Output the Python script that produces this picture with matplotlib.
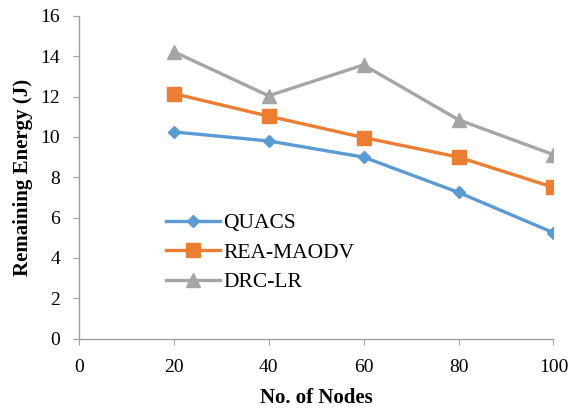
import matplotlib
matplotlib.use("Agg")
import matplotlib.pyplot as plt

nodes = [20, 40, 60, 80, 100]
quacs = [10.25, 9.8, 9.0, 7.25, 5.25]
rea_maodv = [12.15, 11.03, 9.97, 9.0, 7.5]
drc_lr = [14.23, 12.04, 13.57, 10.85, 9.12]
series_names = ["QUACS", "REA-MAODV", "DRC-LR"]
x_ticks = [0, 20, 40, 60, 80, 100]
y_ticks = [0, 2, 4, 6, 8, 10, 12, 14, 16]

plt.rcParams['font.family'] = ['Liberation Serif', 'DejaVu Serif']

fig = plt.figure(figsize=(5.7, 4.08), dpi=100)
ax = fig.add_axes([0.138, 0.170, 0.833, 0.791])

ax.plot(nodes, quacs, color='#5B9BD5', lw=2.4, marker='D', ms=6.6, label=series_names[0])
ax.plot(nodes, rea_maodv, color='#ED7D31', lw=2.4, marker='s', ms=10, label=series_names[1])
ax.plot(nodes, drc_lr, color='#A5A5A5', lw=2.4, marker='^', ms=10, label=series_names[2])

ax.set_xlim(0, 100)
ax.set_ylim(0, 16)
ax.set_xticks(x_ticks)
ax.set_yticks(y_ticks)
for s in ['top', 'right']:
    ax.spines[s].set_visible(False)
for s in ['left', 'bottom']:
    ax.spines[s].set_color('#A0A0A0')
    ax.spines[s].set_linewidth(1.0)
ax.tick_params(axis='both', colors='#A0A0A0', labelcolor='black', labelsize=14, length=4.5, direction='out')
ax.tick_params(axis='x', pad=10)
ax.tick_params(axis='y', pad=9)

ax.set_xlabel('No. of Nodes', fontsize=15, fontweight='bold', labelpad=9)
ax.set_ylabel('Remaining Energy (J)', fontsize=15, fontweight='bold', labelpad=5.5)

leg = ax.legend(loc='center left', bbox_to_anchor=(0.185, 0.266), frameon=False, fontsize=15.5,
                handlelength=2.5, handletextpad=0.15, labelspacing=0.44, borderaxespad=0,
                borderpad=0)

fig.savefig('out.png', dpi=100)
